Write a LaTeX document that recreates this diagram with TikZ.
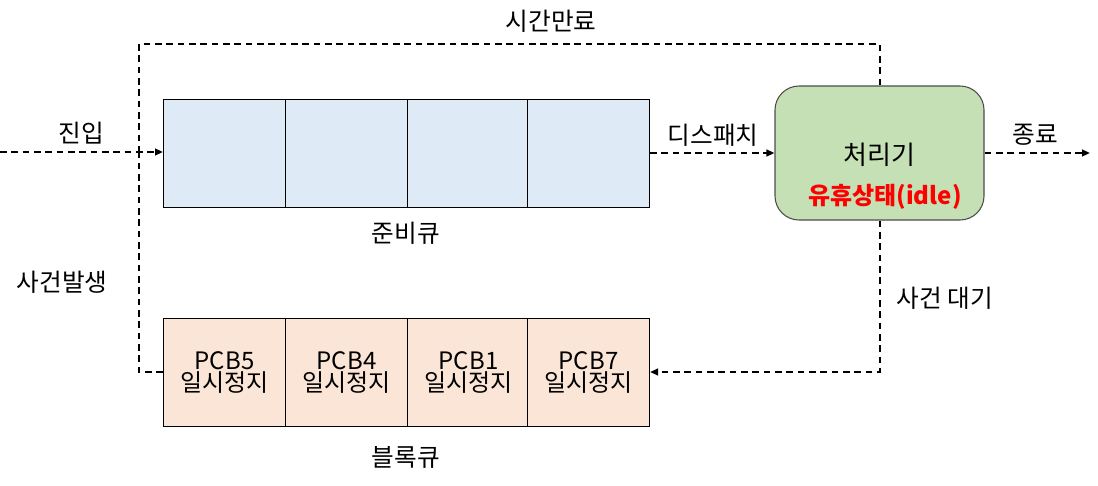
\documentclass[tikz,border=0pt]{standalone}
\usepackage{fontspec}
\setmainfont{Noto Sans CJK KR}
\usetikzlibrary{arrows.meta}
\definecolor{readyblue}{HTML}{DEEBF7}
\definecolor{blockpeach}{HTML}{FBE5D6}
\definecolor{cpugreen}{HTML}{C5E0B4}
\begin{document}
\begin{tikzpicture}[x=0.75pt,y=-0.75pt,
  cell/.style={draw=black,line width=0.8pt,minimum width=91.5pt,minimum height=81pt,inner sep=0pt,anchor=north west,align=center,font=\fontsize{18}{20}\selectfont},
  rcell/.style={cell,fill=readyblue},
  bcell/.style={cell,fill=blockpeach},
  lbl/.style={font=\fontsize{18.5}{20}\selectfont,inner sep=0pt},
  flow/.style={line width=1.5pt,dash pattern=on 5pt off 3.5pt,-{Triangle[length=6pt,width=5pt]}},
  flowplain/.style={line width=1.5pt,dash pattern=on 5pt off 3.5pt}]
\useasboundingbox (0,0) rectangle (1098,485);
% ready queue
\node[rcell] (r1) at (163,99) {};
\node[rcell] (r2) at (285,99) {};
\node[rcell] (r3) at (407,99) {};
\node[rcell,minimum width=91.5pt] (r4) at (527,99) {};
% blocked queue
\node[bcell] (b1) at (163,318) {PCB5\\[-3pt]일시정지};
\node[bcell] (b2) at (285,318) {PCB4\\[-3pt]일시정지};
\node[bcell] (b3) at (407,318) {PCB1\\[-3pt]일시정지};
\node[bcell] (b4) at (527,318) {PCB7\\[-3pt]일시정지};
% processor
\node[draw=black!70,line width=0.8pt,fill=cpugreen,rounded corners=18pt,minimum width=156.75pt,minimum height=100.5pt,inner sep=0pt] (cpu) at (879.5,153) {};
\node[lbl,font=\fontsize{19.5}{21}\selectfont] (cpulabel) at (879.5,155) {처리기};
\node[lbl,text=red,font=\fontsize{18}{20}\selectfont\bfseries] (idle) at (885,197) {유휴상태(idle)};
% coordinates
\coordinate (inL) at (0,152);
\coordinate (qin) at (163,152);
\coordinate (corner) at (139,152);
\coordinate (topL) at (139,44);
\coordinate (topR) at (879.5,44);
\coordinate (botL) at (139,372);
\coordinate (botR) at (879.5,372);
\coordinate (outR) at (1090,153);
% connectors
\draw[flow] (inL) -- (qin);
\draw[flowplain] (cpu.north) -- (topR) -- (topL) -- (corner);
\draw[flowplain] (b1.west |- botL) -- (botL) -- (corner);
\draw[flow] (r4.east |- cpu) -- (cpu.west);
\draw[flow] (cpu.east) -- (outR);
\draw[flow] (cpu.south) -- (botR) -- (b4.east |- botR);
% labels
\node[lbl] (t1) at (551,21) {시간만료};
\node[lbl] (t2) at (81,133) {진입};
\node[lbl] (t3) at (713,135) {디스패치};
\node[lbl] (t4) at (1035,135) {종료};
\node[lbl] (t5) at (406,233) {준비큐};
\node[lbl] (t6) at (62,282) {사건발생};
\node[lbl] (t7) at (945,298) {사건 대기};
\node[lbl] (t8) at (406,457) {블록큐};
\end{tikzpicture}
\end{document}
